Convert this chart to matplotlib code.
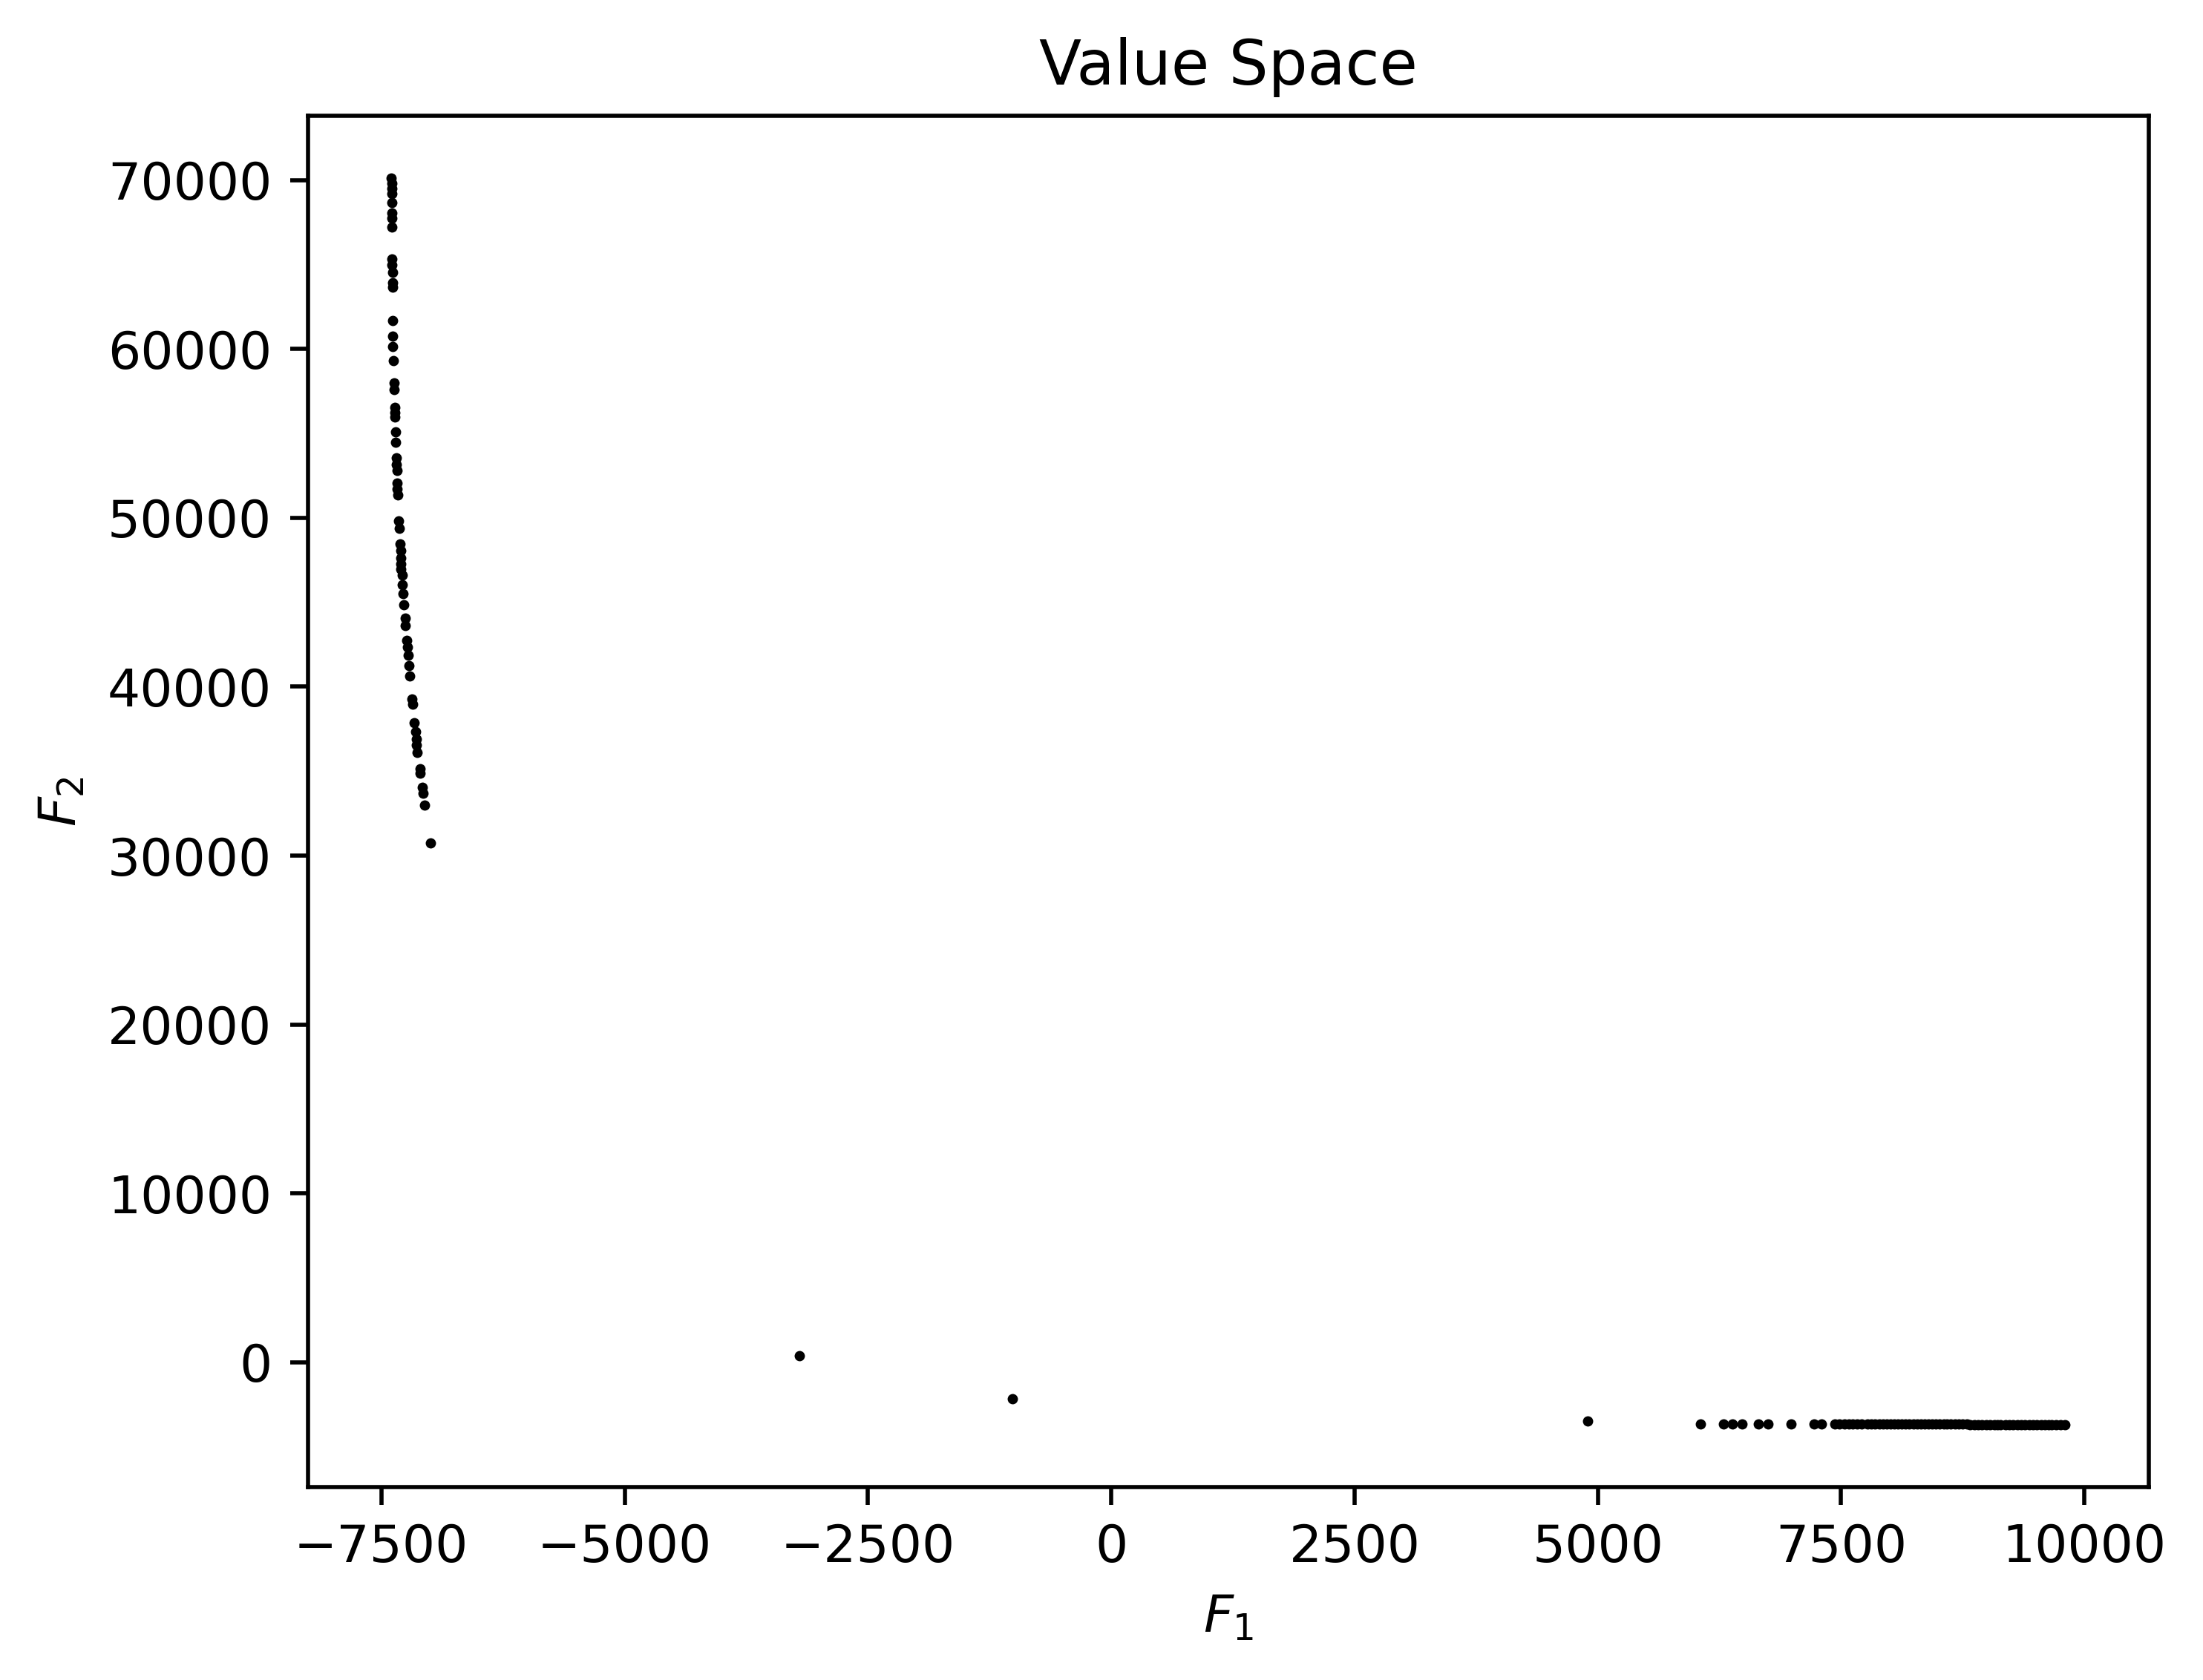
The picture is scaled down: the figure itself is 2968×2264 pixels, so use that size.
import matplotlib
matplotlib.use("Agg")
import matplotlib.pyplot as plt
import numpy as np

# Left branch of the front (F1 near -7400, F2 high)
f1_left = [-7395, -7394, -7393, -7393, -7392, -7391, -7390, -7390,
           -7388, -7388, -7387, -7387, -7386, -7383, -7381, -7380,
           -7376, -7371, -7370, -7363, -7362, -7360, -7353, -7350,
           -7345, -7343, -7340, -7336, -7334, -7330, -7325, -7315,
           -7305, -7302, -7302, -7298, -7297, -7285, -7283, -7275,
           -7270, -7257, -7256, -7236, -7232, -7223, -7218, -7210,
           -7187, -7180, -7162, -7147, -7142, -7137, -7129, -7104,
           -7103, -7078, -7071, -7058, -6995]
f2_left = [70130, 69790, 69500, 69200, 68650, 68060, 67740, 67230,
           65320, 64960, 64520, 63930, 63640, 61690, 60760, 60150,
           59320, 58000, 57610, 56540, 56240, 55950, 55100, 54490,
           53530, 53170, 52800, 52070, 51700, 51360, 49830, 49390,
           48440, 48070, 47630, 47270, 46970, 46610, 46020, 45510,
           44850, 44040, 43600, 42720, 42360, 41850, 41260, 40650,
           39250, 38960, 37860, 37350, 36910, 36540, 36110, 35150,
           34860, 34050, 33690, 32990, 30760]

# Isolated points in the middle
f1_mid = [-3202, -1012, 4898]
f2_mid = [410, -2150, -3490]

# Right branch (F2 near -3650)
f1_right = [6053, 6292, 6385, 6483, 6652, 6748, 6984, 7225, 7300,
            7432, 7478, 7531, 7577, 7622, 7668, 7712, 7768, 7808,
            7851, 7893, 7930, 7968, 8004, 8043, 8082, 8121, 8160,
            8198, 8242, 8281, 8318, 8357, 8394, 8433, 8471, 8512,
            8553, 8590, 8629, 8668, 8712, 8751, 8790, 8822, 8868,
            8907, 8949, 8990, 9031, 9072, 9109, 9140, 9188, 9229,
            9268, 9311, 9352, 9391, 9430, 9472, 9511, 9552, 9590,
            9635, 9665, 9708, 9752, 9800]
f2_right = [-3640, -3640, -3640, -3640, -3640, -3640, -3640, -3640, -3640,
            -3640, -3640, -3640, -3640, -3640, -3640, -3640, -3640, -3640,
            -3642, -3642, -3645, -3645, -3648, -3648, -3650, -3650, -3655,
            -3655, -3658, -3660, -3660, -3662, -3665, -3668, -3670, -3672,
            -3672, -3674, -3674, -3674, -3675, -3675, -3675, -3676, -3676,
            -3676, -3676, -3676, -3677, -3677, -3677, -3677, -3677, -3678,
            -3678, -3678, -3678, -3678, -3679, -3679, -3679, -3679, -3679,
            -3680, -3680, -3680, -3680, -3680]

F1 = np.array(f1_left + f1_mid + f1_right)
F2 = np.array(f2_left + f2_mid + f2_right)


def main():
    fig, ax = plt.subplots(figsize=(6.4, 4.8))
    ax.scatter(F1, F2, s=4, color='k', linewidths=0)
    ax.set_title("Value Space")
    ax.set_xlabel("$F_1$")
    ax.set_ylabel("$F_2$")
    fig.savefig("out.png", dpi=500, bbox_inches='tight')


if __name__ == "__main__":
    main()
